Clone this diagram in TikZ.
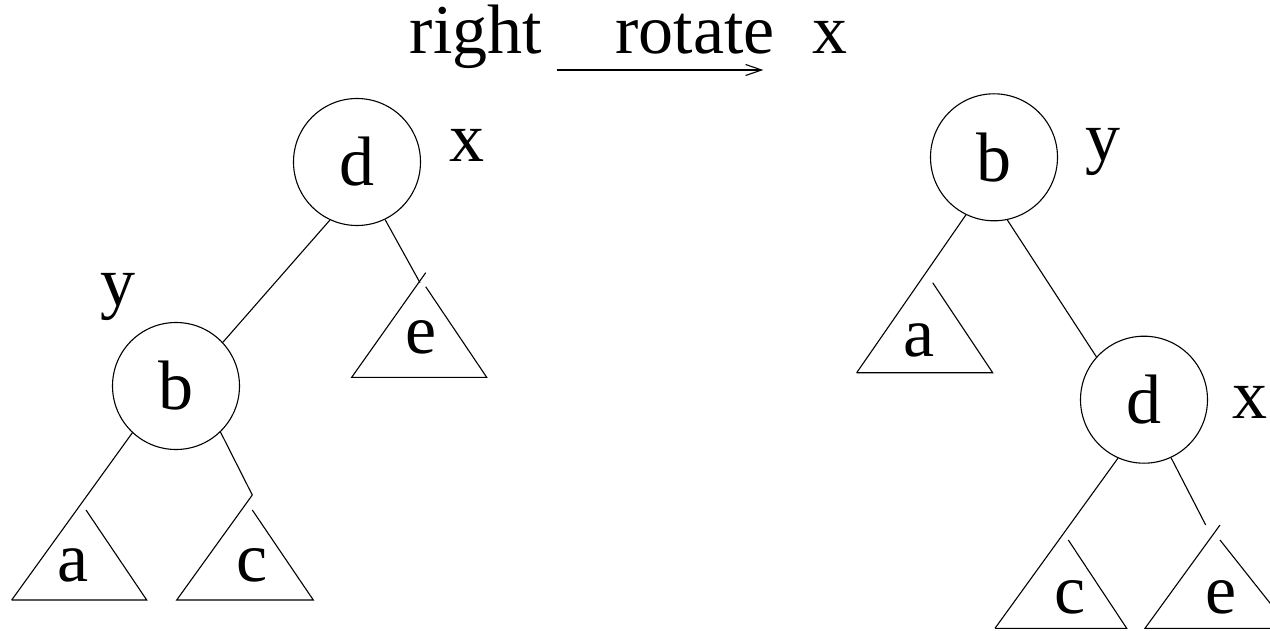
\documentclass[tikz,border=0pt]{standalone}
\usepackage{fontspec}
\setmainfont{Liberation Serif}
\usetikzlibrary{arrows.meta}
\begin{document}
\begin{tikzpicture}[x=1pt,y=-1pt,line width=1.1pt,
  lbl/.style={font=\fontsize{70}{84}\selectfont,inner sep=0pt},
  vert/.style={draw,circle,minimum size=127pt,inner sep=0pt,font=\fontsize{70}{84}\selectfont},
  link/.style={draw},
  tri/.style={draw,line join=miter}]
\useasboundingbox (0,0) rectangle (1270,631);
\clip (0,0) rectangle (1270,631);
% title
\node[lbl,anchor=base] (tr) at (476,54) {right};
\node[lbl,anchor=base] (tro) at (695,54) {rotate};
\node[lbl,anchor=base] (tx) at (830,54) {x};
\coordinate (arS) at (556.7,70);
\coordinate (arE) at (763.3,70);
\draw[-{Straight Barb[length=16pt,width=11pt,line width=1.1pt]}] (arS) -- (arE);
% ---------- left tree ----------
\node[vert] (d1) at (357,162) {d};
\node[vert] (b1) at (176,386) {b};
\node[lbl] (x1) at (467,145) {x};
\node[lbl] (y1) at (118,297) {y};
\draw[link] (d1.245) -- (b1.43);
% a
\coordinate (a1l) at (11.7,600);
\coordinate (a1r) at (146.7,600);
\coordinate (a1t) at (86,510);
\draw[link] (b1.227) -- (a1l);
\draw[tri] (a1l) -- (a1r) -- (a1t);
\node[lbl] (a1) at (73,565) {a};
% c
\coordinate (c1k) at (252.3,495);
\coordinate (c1l) at (176.7,600);
\coordinate (c1r) at (313.3,600);
\coordinate (c1t) at (252.3,510);
\draw[link] (b1.314) -- (c1k);
\draw[tri] (c1k) -- (c1l) -- (c1r) -- (c1t);
\node[lbl] (c1) at (252,565) {c};
% e
\coordinate (e1k) at (420,282.7);
\coordinate (e1a) at (425.7,272.7);
\coordinate (e1l) at (351.7,377.3);
\coordinate (e1r) at (486.7,377.3);
\coordinate (e1t) at (425.7,286.7);
\draw[link] (d1.296) -- (e1k);
\draw[tri] (e1a) -- (e1l) -- (e1r) -- (e1t);
\node[lbl] (e1) at (421,337) {e};
% ---------- right tree ----------
\node[vert] (b2) at (994,157.3) {b};
\node[vert] (d2) at (1144,399.7) {d};
\node[lbl] (y2) at (1103,152) {y};
\node[lbl] (x2) at (1250,402) {x};
\draw[link] (b2.282) -- (d2.138);
% a
\coordinate (a2l) at (856.7,372.7);
\coordinate (a2r) at (992.7,372.7);
\coordinate (a2t) at (932.7,282.7);
\draw[link] (b2.244) -- (a2l);
\draw[tri] (a2l) -- (a2r) -- (a2t);
\node[lbl] (a2) at (919,340) {a};
% c
\coordinate (c2l) at (995,628.3);
\coordinate (c2r) at (1126.7,628.3);
\coordinate (c2t) at (1068.3,540);
\draw[link] (d2.246) -- (c2l);
\draw[tri] (c2l) -- (c2r) -- (c2t);
\node[lbl] (c2) at (1070,597) {c};
% e
\coordinate (e2k) at (1205.7,525);
\coordinate (e2a) at (1220,525);
\coordinate (e2l) at (1145,628.3);
\coordinate (e2r) at (1290,628.3);
\coordinate (e2t) at (1220,540);
\draw[link] (d2.295) -- (e2k);
\draw[tri] (e2a) -- (e2l) -- (e2r) -- (e2t);
\node[lbl] (e2) at (1221,597) {e};
\end{tikzpicture}
\end{document}
